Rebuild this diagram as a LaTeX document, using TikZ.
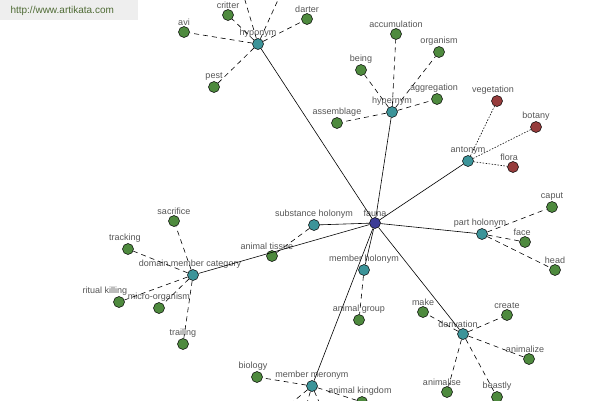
\documentclass[tikz,border=0pt]{standalone}
\usepackage{fontspec}
\setmainfont{Liberation Sans}
\usetikzlibrary{positioning}
\definecolor{wgreen}{HTML}{4E8A3E}
\definecolor{wteal}{HTML}{3C9499}
\definecolor{wblue}{HTML}{3C3C96}
\definecolor{wred}{HTML}{963C3C}
\definecolor{txtgray}{HTML}{555555}
\definecolor{urlgray}{HTML}{EEEEEE}
\definecolor{urlgreen}{HTML}{4F6B35}
\tikzset{word/.style={circle, draw=black, line width=0.5pt, fill=wgreen, minimum size=11pt, inner sep=0pt}}
\tikzset{rel/.style={word, fill=wteal}}
\tikzset{hub/.style={word, fill=wblue}}
\tikzset{anto/.style={word, fill=wred}}
\tikzset{every label/.style={font=\fontsize{9}{10}\selectfont, text=txtgray, inner sep=0.5pt}}
\tikzset{link/.style={line width=0.6pt}}
\tikzset{dlink/.style={line width=0.6pt, dash pattern=on 5pt off 4pt}}
\tikzset{olink/.style={line width=0.6pt, dash pattern=on 1.5pt off 1.5pt}}

\begin{document}
\begin{tikzpicture}[x=1pt, y=-1pt]
\useasboundingbox (0,0) rectangle (600,400);
\clip (0,0) rectangle (600,400);
\fill[urlgray] (0,0) rectangle (138,20);
\draw node(url) [anchor=west, text=urlgreen, font=\fontsize{10}{11}\selectfont] at (7,11) {http://www.artikata.com};

% hub and relations
\draw node(fauna) [hub, label=above:fauna] at (375,223) {};
\draw node(hypo) [rel, label=above:hyponym] at (258,44) {};
\draw node(hyper) [rel, label=above:hypernym] at (392,112) {};
\draw node(anton) [rel, label=above:antonym] at (468,161) {};
\draw node(partho) [rel, label={[xshift=-2pt]above:part holonym}] at (482,234) {};
\draw node(deriv) [rel, label={[xshift=-5pt]above:derivation}] at (463,334) {};
\draw node(memmer) [rel, label=above:member meronym] at (312,386) {};
\draw node(memho) [rel, label=above:member holonym] at (364,270) {};
\draw node(subho) [rel, label=above:substance holonym] at (314,225) {};
\draw node(domain) [rel, label={[xshift=-3pt]above:domain member category}] at (193,275) {};

% words
\draw node(critter) [word, label=above:critter] at (228,15) {};
\draw node(avi) [word, label=above:avi] at (184,32) {};
\draw node(darter) [word, label=above:darter] at (307,19) {};
\draw node(pest) [word, label=above:pest] at (214,87) {};
\coordinate (hypoA) at (239,-20);
\coordinate (hypoB) at (287,-20);
\draw node(accum) [word, label=above:accumulation] at (396,34) {};
\draw node(organism) [word, label=above:organism] at (439,52) {};
\draw node(being) [word, label=above:being] at (361,70) {};
\draw node(aggreg) [word, label={[xshift=-3pt]above:aggregation}] at (437,99) {};
\draw node(assemb) [word, label=above:assemblage] at (337,123) {};
\draw node(veget) [anto, label={[xshift=-4pt]above:vegetation}] at (497,101) {};
\draw node(botany) [anto, label=above:botany] at (536,127) {};
\draw node(flora) [anto, label={[xshift=-4pt]above:flora}] at (513,167) {};
\draw node(caput) [word, label=above:caput] at (552,207) {};
\draw node(face) [word, label={[xshift=-3pt]above:face}] at (525,242) {};
\draw node(head) [word, label=above:head] at (555,270) {};
\draw node(make) [word, label=above:make] at (423,312) {};
\draw node(create) [word, label=above:create] at (507,315) {};
\draw node(animalize) [word, label={[xshift=-4pt]above:animalize}] at (529,359) {};
\draw node(animalise) [word, label={[xshift=-5pt]above:animalise}] at (447,392) {};
\draw node(beastly) [word, label=above:beastly] at (497,397) {};
\draw node(biology) [word, label={[xshift=-4pt]above:biology}] at (257,377) {};
\draw node(kingdom) [word, label={[xshift=-2pt]above:animal kingdom}] at (362,402) {};
\coordinate (merA) at (271,420);
\coordinate (merB) at (302,420);
\coordinate (merC) at (327,420);
\draw node(agroup) [word, label=above:animal group] at (359,320) {};
\draw node(tissue) [word, label={[xshift=-5pt]above:animal tissue}] at (272,256) {};
\draw node(sacrif) [word, label=above:sacrifice] at (174,221) {};
\draw node(track) [word, label={[xshift=-3pt]above:tracking}] at (128,249) {};
\draw node(ritual) [word, label={[xshift=-14pt]above:ritual killing}] at (119,302) {};
\draw node(micro) [word, label=above:micro-organism] at (159,308) {};
\draw node(trail) [word, label=above:trailing] at (183,344) {};

% connectors
\draw[link] (fauna) edge (hypo) edge (hyper) edge (anton) edge (partho) edge (deriv)
  edge (memmer) edge (memho) edge (subho) edge (domain);
\draw[dlink] (hypo) edge (critter) edge (avi) edge (darter) edge (pest) edge (hypoA) edge (hypoB);
\draw[dlink] (hyper) edge (accum) edge (organism) edge (being) edge (aggreg) edge (assemb);
\draw[olink] (anton) edge (veget) edge (botany) edge (flora);
\draw[dlink] (partho) edge (caput) edge (face) edge (head);
\draw[dlink] (deriv) edge (make) edge (create) edge (animalize) edge (animalise) edge (beastly);
\draw[dlink] (memmer) edge (biology) edge (kingdom) edge (merA) edge (merB) edge (merC);
\draw[dlink] (memho) edge (agroup);
\draw[dlink] (subho) edge (tissue);
\draw[dlink] (domain) edge (sacrif) edge (track) edge (ritual) edge (micro) edge (trail);
\end{tikzpicture}
\end{document}
